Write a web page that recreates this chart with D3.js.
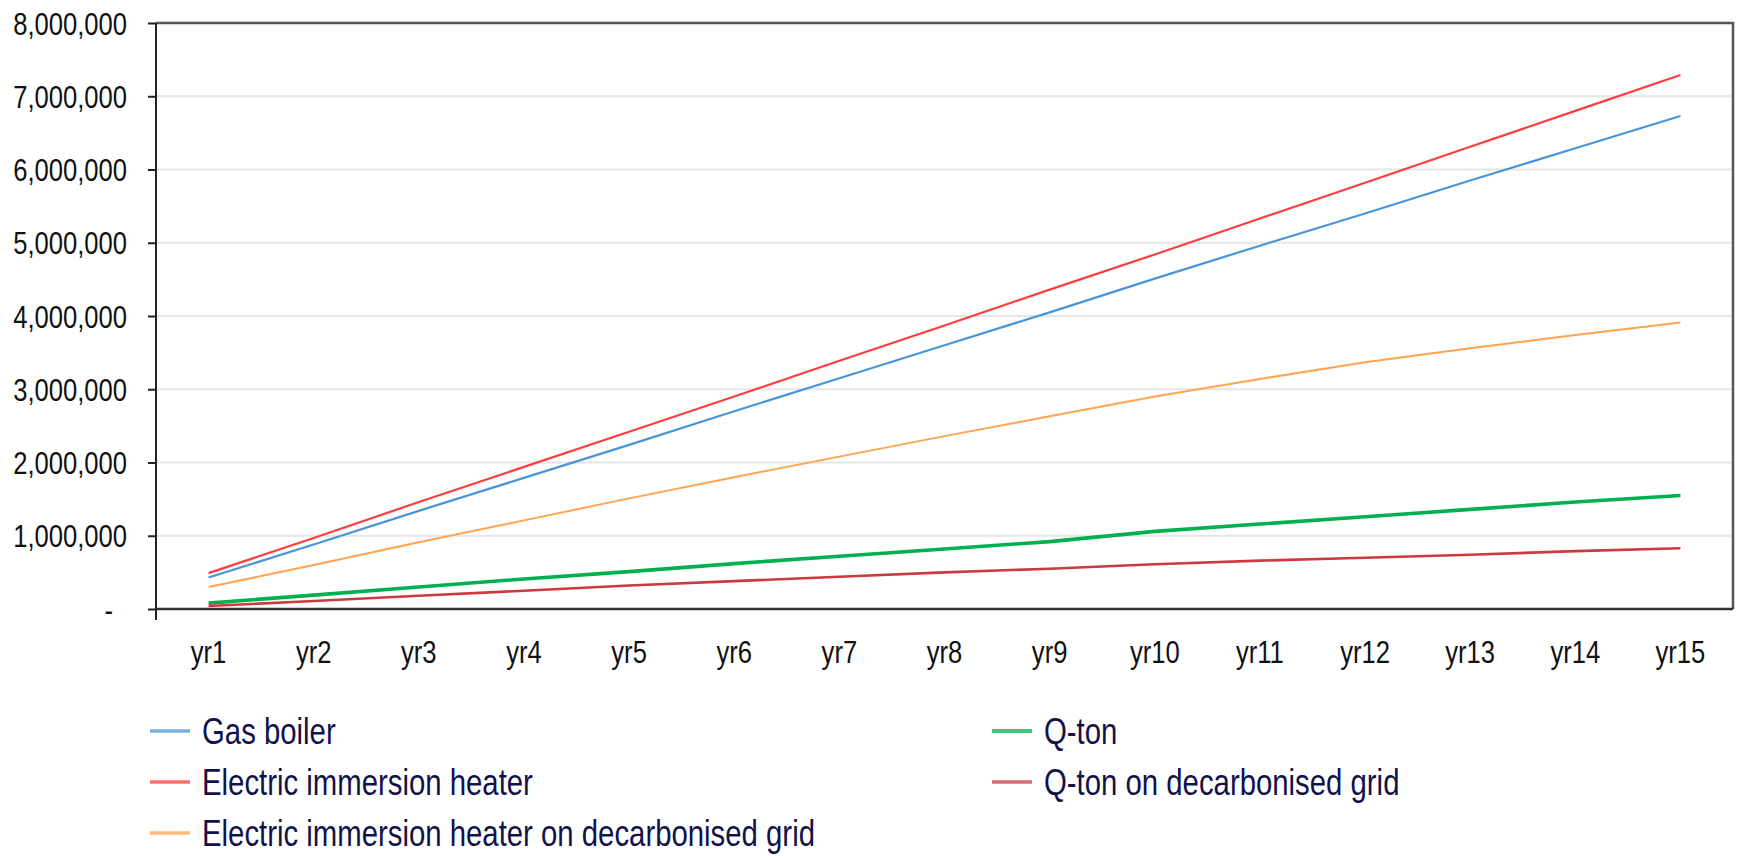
<!DOCTYPE html>
<html>
<head>
<meta charset="utf-8">
<script src="https://cdn.jsdelivr.net/npm/d3@7"></script>
<style>
  body { margin: 0; background: #fff; }
  svg text { font-family: "Liberation Sans", Arial, sans-serif; }
</style>
</head>
<body>
<div id="chart"></div>
<script>
// data
var years = ["yr1","yr2","yr3","yr4","yr5","yr6","yr7","yr8","yr9","yr10","yr11","yr12","yr13","yr14","yr15"];
var gasBoiler   = [430000, 880000, 1340000, 1790000, 2240000, 2700000, 3150000, 3600000, 4050000, 4510000, 4960000, 5400000, 5850000, 6290000, 6730000];
var electric    = [490000, 970000, 1460000, 1940000, 2420000, 2900000, 3390000, 3870000, 4360000, 4840000, 5330000, 5820000, 6310000, 6800000, 7290000];
var electricDec = [300000, 600000, 910000, 1210000, 1510000, 1800000, 2080000, 2360000, 2630000, 2900000, 3140000, 3370000, 3560000, 3740000, 3910000];
var qton        = [80000, 190000, 300000, 410000, 510000, 620000, 720000, 820000, 920000, 1060000, 1160000, 1260000, 1360000, 1460000, 1550000];
var qtonDec     = [40000, 110000, 180000, 250000, 320000, 380000, 440000, 500000, 550000, 610000, 660000, 700000, 740000, 790000, 830000];
var yTicks = [0, 1000000, 2000000, 3000000, 4000000, 5000000, 6000000, 7000000, 8000000];

var seriesNames = ["Gas boiler", "Electric immersion heater", "Electric immersion heater on decarbonised grid", "Q-ton", "Q-ton on decarbonised grid"];
var seriesValues = [gasBoiler, electric, electricDec, qton, qtonDec];
var seriesColors = ["#4a95d6", "#ff3d3d", "#ffa54f", "#00b050", "#cc3a40"];
var seriesWidths = [2.2, 2.2, 2, 3.6, 2.6];

var W = 1742, H = 856;
var pLeft = 156, pRight = 1733, pTop = 23, pBottom = 609;
var sx = 0.8; // text looks horizontally squeezed

var svg = d3.select("#chart").append("svg")
    .attr("width", W)
    .attr("height", H);

var x = d3.scaleBand()
  .domain(years)
  .range([pLeft, pRight]);

var y = d3.scaleLinear()
  .domain([0, 8000000])
  .range([pBottom, pTop]);

// gridlines
svg.append("g")
  .selectAll("line")
  .data(yTicks.filter(function(d) { return d > 0 && d < 8000000; }))
  .enter()
  .append("line")
    .attr("x1", pLeft)
    .attr("x2", pRight)
    .attr("y1", function(d) { return y(d); })
    .attr("y2", function(d) { return y(d); })
    .attr("stroke", "#e6e6e6")
    .attr("stroke-width", 2);

// frame top + right
svg.append("path")
  .attr("d", "M" + pLeft + "," + pTop + "H" + pRight + "V" + pBottom)
  .attr("fill", "none")
  .attr("stroke", "#555")
  .attr("stroke-width", 2.5);

// y axis
var yAxis = svg.append("g")
  .attr("transform", "translate(" + pLeft + ",0)")
  .call(d3.axisLeft(y)
    .tickValues(yTicks)
    .tickSize(8)
    .tickSizeOuter(0)
    .tickFormat(function(d) { return d === 0 ? "-" : d3.format(",")(d); }));
yAxis.select(".domain").remove();
yAxis.selectAll(".tick line").attr("stroke", "#222").attr("stroke-width", 2);
yAxis.selectAll("text")
  .attr("transform", "scale(" + sx + ",1)")
  .attr("x", function(d) { return d === 0 ? -43 / sx : -29 / sx; })
  .attr("dy", "0.35em")
  .style("font-size", "32px")
  .attr("fill", "#111");

svg.append("line")
  .attr("x1", pLeft).attr("x2", pLeft)
  .attr("y1", pTop).attr("y2", 620)
  .attr("stroke", "#222")
  .attr("stroke-width", 2);

// x axis
var xAxis = svg.append("g")
  .attr("transform", "translate(0," + pBottom + ")")
  .call(d3.axisBottom(x).tickSize(0).tickSizeOuter(0));
xAxis.select(".domain").remove();
xAxis.selectAll("text")
  .attr("transform", "scale(" + sx + ",1)")
  .attr("y", 43)
  .attr("dy", "0.35em")
  .style("font-size", "32px")
  .attr("fill", "#111");

svg.append("line")
  .attr("x1", pLeft).attr("x2", pRight)
  .attr("y1", pBottom).attr("y2", pBottom)
  .attr("stroke", "#333")
  .attr("stroke-width", 2.5);

// lines
var line = d3.line()
  .x(function(d, i) { return x(years[i]) + x.bandwidth() / 2; })
  .y(function(d) { return y(d); });

// draw order: thinner lines on top of green
var order = [3, 4, 2, 0, 1];
order.forEach(function(k) {
  svg.append("path")
    .datum(seriesValues[k])
    .attr("d", line)
    .attr("fill", "none")
    .attr("stroke", seriesColors[k])
    .attr("stroke-width", seriesWidths[k])
    .attr("stroke-linejoin", "round");
});

// legend
var legendX = [150, 150, 150, 992, 992];
var legendY = [731, 782, 833, 731, 782];
var lg = svg.append("g");
seriesNames.forEach(function(name, k) {
  var g = lg.append("g").attr("transform", "translate(" + legendX[k] + "," + legendY[k] + ")");
  g.append("line")
    .attr("x1", 0).attr("x2", 40)
    .attr("y1", 0).attr("y2", 0)
    .attr("stroke", seriesColors[k])
    .attr("stroke-opacity", 0.75)
    .attr("stroke-width", k === 3 ? 4 : 3.5);
  g.append("text")
    .attr("transform", "translate(52,0) scale(0.815,1)")
    .attr("dy", "0.36em")
    .style("font-size", "36px")
    .attr("fill", "#12124a")
    .text(name);
});
</script>
</body>
</html>
